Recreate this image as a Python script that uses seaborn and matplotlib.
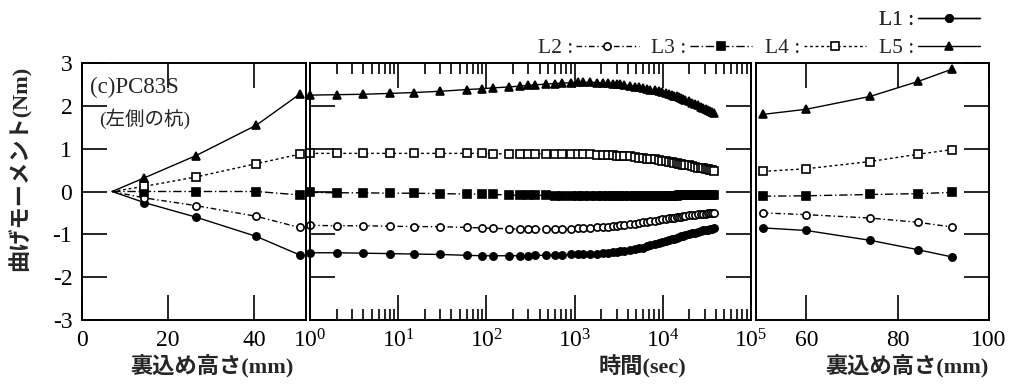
import matplotlib
matplotlib.use("Agg")
import matplotlib.pyplot as plt
import seaborn as sns
from matplotlib.ticker import LogLocator, NullFormatter, LogFormatterMathtext, FixedLocator

sns.set_style("ticks")
plt.rcParams["font.family"] = ["Liberation Serif", "Noto Sans CJK JP"]
plt.rcParams["mathtext.fontset"] = "custom"
plt.rcParams["mathtext.rm"] = "Liberation Serif"
plt.rcParams["mathtext.default"] = "regular"
plt.rcParams["axes.unicode_minus"] = False

# ---------------- data ----------------
series_names = ["L1", "L2", "L3", "L4", "L5"]

# backfill height during filling (mm)
fill_height = [7, 14.5, 26.5, 40.5, 50.5]
fill_L1 = [0, -0.26, -0.60, -1.05, -1.48]
fill_L2 = [0, -0.15, -0.33, -0.58, -0.84]
fill_L3 = [0, 0.00, 0.00, 0.00, -0.08]
fill_L4 = [0, 0.12, 0.34, 0.65, 0.87]
fill_L5 = [0, 0.32, 0.84, 1.55, 2.27]

# elapsed time after filling (sec)
time_sec = [1, 2, 4, 8, 15, 30,
            60, 90, 120, 180, 240, 300, 360,
            480, 600, 720, 900, 1080, 1260,
            1500, 1800, 2100, 2400, 2700, 3000,
            3300, 3600, 4200, 4800, 5400, 6000,
            6600, 7200, 8100, 9000, 9900,
            10800, 11700, 12600, 13500, 14400,
            15300, 16200, 17100, 18000,
            19800, 21600, 23400, 25200, 27000, 28800,
            30600, 32400, 34200, 36000, 37800]
time_L1 = [-1.43, -1.43, -1.44, -1.45, -1.46, -1.47,
           -1.49, -1.50, -1.50, -1.50, -1.50, -1.50, -1.49,
           -1.49, -1.48, -1.48, -1.47, -1.47, -1.46,
           -1.46, -1.45, -1.44, -1.43, -1.42, -1.41,
           -1.40, -1.39, -1.37, -1.35, -1.33, -1.31,
           -1.28, -1.26, -1.22, -1.20, -1.18,
           -1.16, -1.14, -1.12, -1.10, -1.08,
           -1.06, -1.05, -1.03, -1.02,
           -1.00, -0.98, -0.96, -0.94, -0.92, -0.91,
           -0.90, -0.89, -0.88, -0.87, -0.86]
time_L2 = [-0.79, -0.80, -0.80, -0.81, -0.82, -0.82,
           -0.84, -0.85, -0.86, -0.87, -0.88, -0.88, -0.88,
           -0.88, -0.88, -0.87, -0.87, -0.86, -0.86,
           -0.85, -0.84, -0.83, -0.82, -0.81, -0.80,
           -0.79, -0.78, -0.76, -0.75, -0.73, -0.72,
           -0.71, -0.70, -0.68, -0.67, -0.65,
           -0.64, -0.63, -0.62, -0.61, -0.60,
           -0.59, -0.59, -0.58, -0.57,
           -0.56, -0.55, -0.54, -0.53, -0.53, -0.52,
           -0.52, -0.51, -0.51, -0.50, -0.50]
time_L3 = [-0.02, -0.03, -0.03, -0.04, -0.04, -0.05,
           -0.06, -0.06, -0.07, -0.08, -0.09, -0.09, -0.09,
           -0.09, -0.10, -0.10, -0.10, -0.10, -0.10,
           -0.10, -0.10, -0.10, -0.10, -0.10, -0.10,
           -0.10, -0.10, -0.10, -0.10, -0.10, -0.10,
           -0.10, -0.10, -0.10, -0.10, -0.10,
           -0.10, -0.10, -0.10, -0.10, -0.10,
           -0.09, -0.09, -0.09, -0.09,
           -0.09, -0.09, -0.09, -0.09, -0.09, -0.09,
           -0.09, -0.09, -0.08, -0.08, -0.08]
time_L4 = [0.89, 0.89, 0.89, 0.89, 0.89, 0.89,
           0.89, 0.89, 0.88, 0.88, 0.88, 0.88, 0.88,
           0.88, 0.88, 0.88, 0.88, 0.88, 0.87,
           0.87, 0.86, 0.86, 0.85, 0.85, 0.84,
           0.84, 0.83, 0.82, 0.81, 0.79, 0.78,
           0.77, 0.76, 0.75, 0.73, 0.72,
           0.71, 0.69, 0.68, 0.67, 0.66,
           0.65, 0.64, 0.63, 0.62,
           0.61, 0.59, 0.58, 0.56, 0.55, 0.54,
           0.53, 0.52, 0.51, 0.50, 0.49]
time_L5 = [2.25, 2.26, 2.27, 2.29, 2.31, 2.34,
           2.38, 2.40, 2.42, 2.44, 2.46, 2.48, 2.49,
           2.51, 2.52, 2.53, 2.54, 2.55, 2.55,
           2.55, 2.54, 2.54, 2.53, 2.52, 2.51,
           2.50, 2.49, 2.47, 2.45, 2.43, 2.41,
           2.40, 2.38, 2.36, 2.34, 2.32,
           2.30, 2.28, 2.26, 2.24, 2.22,
           2.20, 2.18, 2.16, 2.14,
           2.11, 2.07, 2.04, 2.01, 1.98, 1.95,
           1.93, 1.90, 1.88, 1.86, 1.84]

# backfill height during raising (mm)
raise_height = [50.5, 60, 74, 84.5, 92]
raise_L1 = [-0.85, -0.91, -1.14, -1.36, -1.53]
raise_L2 = [-0.50, -0.54, -0.62, -0.72, -0.83]
raise_L3 = [-0.11, -0.10, -0.07, -0.05, -0.02]
raise_L4 = [0.47, 0.53, 0.70, 0.87, 0.98]
raise_L5 = [1.80, 1.92, 2.22, 2.57, 2.86]

fill_values = [fill_L1, fill_L2, fill_L3, fill_L4, fill_L5]
time_values = [time_L1, time_L2, time_L3, time_L4, time_L5]
raise_values = [raise_L1, raise_L2, raise_L3, raise_L4, raise_L5]

# line / marker style of each gauge line
line_specs = {
    "L1": dict(linestyle="-", marker="o", markerfacecolor="black"),
    "L2": dict(linestyle=(0, (4, 2, 1, 2)), marker="o", markerfacecolor="white"),
    "L3": dict(linestyle=(0, (6, 2, 1, 2)), marker="s", markerfacecolor="black"),
    "L4": dict(linestyle=(0, (2, 2)), marker="s", markerfacecolor="white"),
    "L5": dict(linestyle="-", marker="^", markerfacecolor="black"),
}

# ---------------- figure ----------------
W, H = 1031, 390
fig = plt.figure(figsize=(W / 100, H / 100), dpi=100)
fig.patch.set_facecolor("white")

bottom, height = 1 - 320 / H, 257 / H
ax_fill = fig.add_axes([82 / W, bottom, 224 / W, height])
ax_time = fig.add_axes([310 / W, bottom, 441 / W, height])
ax_raise = fig.add_axes([756 / W, bottom, 233 / W, height])


def draw(ax, x, y, name, every=None):
    spec = line_specs[name]
    sns.lineplot(x=x, y=y, ax=ax, color="black", linewidth=1.0,
                 linestyle=spec["linestyle"], marker=spec["marker"],
                 markersize=5.2, markerfacecolor=spec["markerfacecolor"],
                 markeredgecolor="black", markeredgewidth=1.2,
                 markevery=every, sort=False, errorbar=None,
                 clip_on=False, label=name)


for name, yv in zip(series_names, fill_values):
    draw(ax_fill, fill_height, yv, name, every=slice(1, None))
for name, yv in zip(series_names, time_values):
    draw(ax_time, time_sec, yv, name)
for name, yv in zip(series_names, raise_values):
    draw(ax_raise, raise_height, yv, name)

tick_fs = 17
major_len, minor_len = 18, 8
for ax in (ax_fill, ax_time, ax_raise):
    ax.set_ylim(-3, 3)
    ax.yaxis.set_major_locator(FixedLocator([-3, -2, -1, 0, 1, 2, 3]))
    ax.set_xlabel("")
    ax.set_ylabel("")
    for sp in ax.spines.values():
        sp.set_visible(True)
        sp.set_linewidth(1.4)
        sp.set_color("black")
    ax.tick_params(which="both", direction="in", width=1.2, colors="black",
                   labelsize=tick_fs)
    ax.tick_params(which="major", length=major_len, pad=7)
    ax.tick_params(which="minor", length=minor_len)
    if ax.get_legend() is not None:
        ax.get_legend().remove()

# left panel: filling
ax_fill.set_xlim(0, 52)
ax_fill.xaxis.set_major_locator(FixedLocator([0, 20, 40]))
ax_fill.tick_params(axis="x", top=True, bottom=True)
ax_fill.tick_params(axis="y", left=True, right=False, labelleft=True)

# middle panel: elapsed time (log)
ax_time.set_xscale("log")
ax_time.set_xlim(1, 1e5)
ax_time.xaxis.set_major_locator(LogLocator(base=10, numticks=10))
ax_time.xaxis.set_minor_locator(LogLocator(base=10, subs=range(2, 10), numticks=20))
ax_time.xaxis.set_major_formatter(LogFormatterMathtext())
ax_time.xaxis.set_minor_formatter(NullFormatter())
ax_time.tick_params(axis="x", which="both", top=True, bottom=True)
ax_time.tick_params(axis="y", left=True, right=True, labelleft=False)

# right panel: raising
ax_raise.set_xlim(49, 100)
ax_raise.xaxis.set_major_locator(FixedLocator([60, 80, 100]))
ax_raise.tick_params(axis="x", top=True, bottom=True)
ax_raise.tick_params(axis="y", left=False, right=True, labelleft=False, labelright=False)

# axis titles
lab_kw = dict(fontsize=16, fontweight="bold")
ax_fill.set_xlabel("裏込め高さ(mm)", **lab_kw)
ax_fill.xaxis.set_label_coords(0.58, -0.183)
ax_time.set_xlabel("時間(sec)", **lab_kw)
ax_time.xaxis.set_label_coords(0.755, -0.183)
ax_raise.set_xlabel("裏込め高さ(mm)", **lab_kw)
ax_raise.xaxis.set_label_coords(0.648, -0.183)
for ax in (ax_fill, ax_time, ax_raise):
    ax.xaxis.label.set_verticalalignment("center")

fig.text(20 / W, 1 - 168 / H, "曲げモーメント(Nm)", rotation=90,
         ha="center", va="center", fontsize=16, fontweight="bold")

ax_fill.text(0.035, 0.905, "(c)PC83S", transform=ax_fill.transAxes,
             ha="left", va="center", fontsize=16.5)
ax_fill.text(0.075, 0.785, "(左側の杭)", transform=ax_fill.transAxes,
             ha="left", va="center", fontsize=14)

# legend across the top
handles = {ln.get_label(): ln for ln in ax_time.get_lines()}
leg_kw = dict(frameon=False, markerfirst=False, handlelength=2.9,
              handletextpad=0.15, columnspacing=0.6, borderpad=0,
              borderaxespad=0, fontsize=15.5, numpoints=1)
leg1 = fig.legend([handles["L1"]], ["L1 :"], loc="center right",
                  bbox_to_anchor=(980 / W, 1 - 20 / H), **leg_kw)
fig.legend([handles[n] for n in ["L2", "L3", "L4", "L5"]],
           ["L2 :", "L3 :", "L4 :", "L5 :"], loc="center right", ncol=4,
           bbox_to_anchor=(980 / W, 1 - 48 / H), **leg_kw)
fig.add_artist(leg1)

fig.savefig("out.png", dpi=100, facecolor="white")
